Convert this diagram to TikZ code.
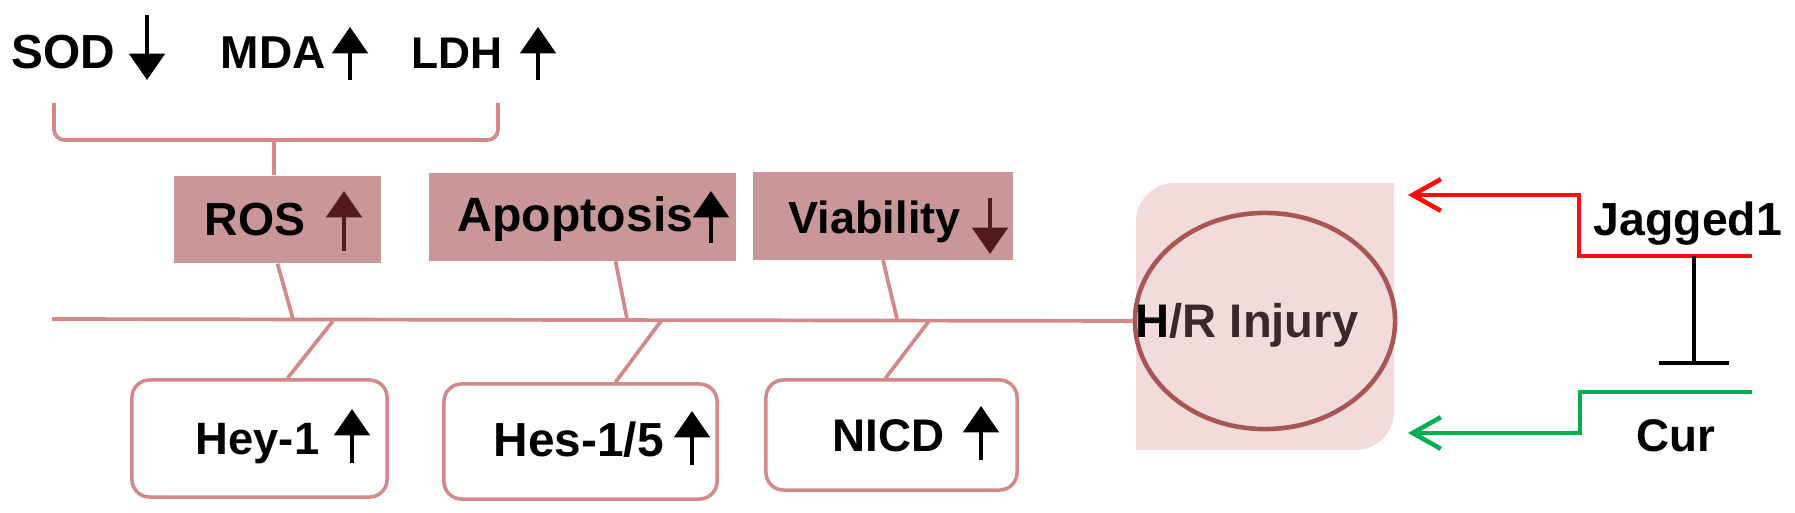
\documentclass[tikz,border=0pt]{standalone}
\usepackage{fontspec}
\setmainfont{Liberation Sans}
\usetikzlibrary{arrows.meta,shapes.geometric}

\definecolor{effectfill}{RGB}{201,151,151}
\definecolor{spinecol}{RGB}{212,136,136}
\definecolor{hrfill}{RGB}{241,219,219}
\definecolor{hredge}{RGB}{170,84,84}
\definecolor{hrtext}{RGB}{58,40,42}
\definecolor{darkmaroon}{RGB}{82,26,32}
\definecolor{jagred}{RGB}{255,12,12}
\definecolor{curgreen}{RGB}{0,176,80}

\tikzset{
  lbl/.style={font=\fontsize{#1}{16}\selectfont\bfseries, inner sep=0pt, anchor=base west},
  lbl/.default=13.2,
  effectbox/.style={fill=effectfill, draw=none, minimum width=#1, minimum height=0.87cm, inner sep=0pt},
  markerbox/.style={draw=spinecol, line width=1pt, fill=white, rounded corners=5pt, minimum width=#1, inner sep=0pt},
  spine/.style={draw=spinecol, line width=1.05pt},
  trend/.style={line width=1.3pt, -{Triangle[width=10pt,length=7.5pt]}},
  signal/.style={line width=1.3pt, -{Straight Barb[length=8pt,width=9pt]}},
}

\begin{document}
\begin{tikzpicture}[x=0.01cm, y=-0.01cm]
\useasboundingbox (0,0) rectangle (1795,513);

% Parameters
\def\spineY{319}    % height of the main line

% Oxidative stress markers
\node[lbl=13.6] (sod) at (11,69) {SOD};
\node[lbl=13.1] (mda) at (220,69) {MDA};
\node[lbl=12.6] (ldh) at (411,69) {LDH};
\draw[trend] (147,15) -- (147,80);
\draw[trend] (350,80) -- (350,27);
\draw[trend] (538,80) -- (538,27);

% Effect boxes above the spine
\node[effectbox=2.07cm] (rosbox) at (277.5,219.5) {};
\node[effectbox=3.07cm] (apobox) at (582.5,217) {};
\node[effectbox=2.60cm] (viabox) at (883,216) {};
\node[lbl=13.2] (ros) at (204,236) {ROS};
\node[lbl=13.7] (apo) at (457,232) {Apoptosis};
\node[lbl=12.8] (via) at (788,234) {Viability};
\draw[trend, darkmaroon] (344,251) -- (344,191);
\draw[trend] (711,243) -- (711,191);
\draw[trend, darkmaroon] (990,198) -- (990,254);

% Bracket from the markers into ROS
\coordinate (brace) at (274,140);
\draw[spine, rounded corners=3pt] (54,103) -- (54,140) -- (498,140) -- (498,103);
\draw[spine] (brace) -- (brace |- rosbox.north);

% H/R injury block
\fill[hrfill, rounded corners=11pt] (1136,183) rectangle (1394,450);
\fill[hrfill] (1300,183) rectangle (1394,260);
\fill[hrfill] (1136,380) rectangle (1230,450);
\node[ellipse, draw=hredge, line width=1.3pt, minimum width=2.6cm, minimum height=2.16cm] (hr) at (1265,321) {};
\node[lbl=13.4, text=hrtext] (hrtxt) at (1135,338) {{\color{black}H}/R Injury};

% Spine and ribs
\draw[spine] (52,\spineY) -- (hr.west);
\foreach \bx/\sx/\jx in {rosbox/0/293, apobox/33/627, viabox/0/897}
  \draw[spine] ([xshift=\sx*0.01cm]\bx.south) -- (\jx,\spineY);

% Notch markers below the spine
\foreach \nm/\txt/\fsz/\cx/\cy/\bw/\bh/\tx/\ty/\ax/\sx/\jx in {
    hey/Hey-1/12.9/259.5/438.5/2.55/1.17/195/455/352/28/333,
    hes/Hes-1\slash5/13.6/580.5/441.5/2.73/1.15/493/457/692/35/661,
    nicd/NICD/13.0/891.5/435/2.51/1.10/832/452/981/-6/929} {
  \node[markerbox=\bw cm, minimum height=\bh cm] (\nm box) at (\cx,\cy) {};
  \node[lbl=\fsz] (\nm) at (\tx,\ty) {\txt};
  \draw[trend] (\ax,\ty+8) -- (\ax,\ty-46);
  \draw[spine] (\jx,\spineY+2) -- ([xshift=\sx*0.01cm]\nm box.north);
}

% Jagged1 and Cur
\node[lbl=13.2] (jag) at (1593,236) {Jagged1};
\node[lbl=13.0] (cur) at (1636,452) {Cur};
\coordinate (jagend) at (1752,256);
\coordinate (curend) at (1752,392);
\coordinate (redtip) at (1408,195);
\coordinate (greentip) at (1408,433);
\coordinate (inhib) at (1694,256);
\draw[signal, jagred] (jagend) -- (1579,256) |- (redtip);
\draw[signal, curgreen] (curend) -- (1580,392) |- (greentip);
\draw[line width=1.1pt, -{Bar[width=20pt]}] (inhib) -- ++(0,109);

\end{tikzpicture}
\end{document}
